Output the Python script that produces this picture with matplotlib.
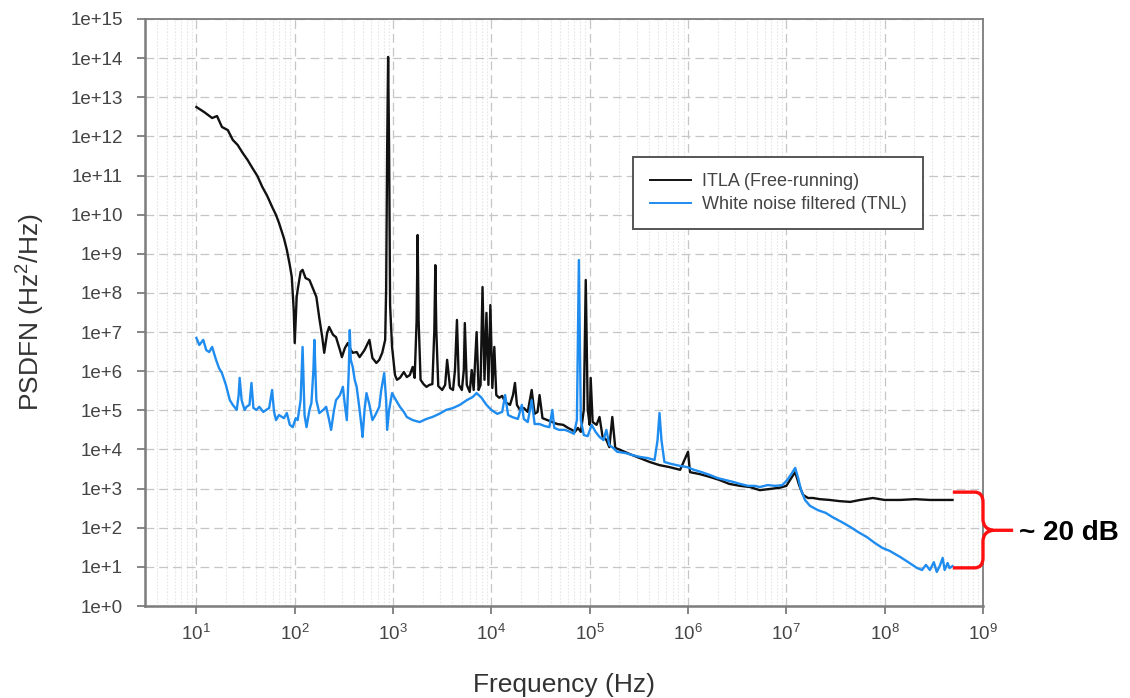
"""Frequency-noise PSD: free-running ITLA vs. white-noise-filtered TNL."""

import matplotlib

matplotlib.use("Agg")
import matplotlib.pyplot as plt
import numpy as np
from matplotlib.patches import PathPatch
from matplotlib.path import Path
from matplotlib.ticker import FixedLocator, FuncFormatter, NullFormatter

INK = "#444444"
LABEL_INK = "#333333"
SPINE = "#7c7c7c"
GRID = "#c6c6c6"
MINOR_GRID = "#e6e6e6"
BLACK_TRACE = "#111111"
BLUE_TRACE = "#1f8cf0"
RED = "#ff1010"

# log10(frequency / Hz) and log10(PSD / Hz^2/Hz)
ITLA_LOG_F = [
    1.00, 1.08, 1.16, 1.21, 1.26, 1.32, 1.37, 1.42, 1.47, 1.52,
    1.57, 1.62, 1.67, 1.72, 1.77, 1.81, 1.84, 1.89, 1.92, 1.95,
    1.97, 1.99, 2.00, 2.02, 2.03, 2.06, 2.08, 2.11, 2.15, 2.19,
    2.22, 2.25, 2.28, 2.30, 2.33, 2.35, 2.39, 2.42, 2.46, 2.48,
    2.51, 2.54, 2.57, 2.59, 2.63, 2.66, 2.71, 2.76, 2.79, 2.83,
    2.86, 2.89, 2.92, 2.93, 2.94, 2.95, 2.96, 2.97, 2.99, 3.02,
    3.04, 3.07, 3.11, 3.14, 3.17, 3.20, 3.22, 3.24, 3.25, 3.26,
    3.28, 3.31, 3.34, 3.37, 3.40, 3.42, 3.43, 3.44, 3.46, 3.50,
    3.53, 3.55, 3.58, 3.61, 3.63, 3.65, 3.67, 3.70, 3.72, 3.73,
    3.75, 3.78, 3.80, 3.82, 3.85, 3.87, 3.89, 3.91, 3.93, 3.95,
    3.97, 3.99, 4.01, 4.03, 4.05, 4.08, 4.11, 4.14, 4.19, 4.22,
    4.24, 4.26, 4.29, 4.33, 4.37, 4.41, 4.44, 4.47, 4.49, 4.52,
    4.57, 4.62, 4.67, 4.73, 4.78, 4.82, 4.85, 4.88, 4.91, 4.94,
    4.96, 4.98, 5.00, 5.01, 5.03, 5.07, 5.10, 5.13, 5.17, 5.20,
    5.23, 5.26, 5.31, 5.41, 5.51, 5.61, 5.71, 5.81, 5.92, 6.00,
    6.02, 6.12, 6.22, 6.32, 6.42, 6.53, 6.63, 6.73, 6.83, 6.93,
    7.00, 7.05, 7.09, 7.13, 7.17, 7.22, 7.27, 7.34, 7.44, 7.54,
    7.65, 7.75, 7.88, 8.00, 8.16, 8.31, 8.46, 8.61, 8.69,
]
ITLA_LOG_PSD = [
    12.75, 12.62, 12.47, 12.52, 12.24, 12.16, 11.91, 11.78, 11.58, 11.40,
    11.19, 10.99, 10.71, 10.48, 10.20, 9.99, 9.79, 9.40, 9.10, 8.71,
    8.41, 7.56, 6.72, 7.90, 8.08, 8.54, 8.59, 8.38, 8.33, 8.08,
    7.90, 7.36, 6.87, 6.47, 6.98, 7.13, 6.93, 6.87, 6.54, 6.36,
    6.59, 6.72, 6.54, 6.47, 6.49, 6.36, 6.54, 6.80, 6.34, 6.21,
    6.29, 6.47, 6.80, 8.08, 11.65, 14.03, 11.65, 7.69, 6.62, 5.90,
    5.78, 5.83, 5.98, 5.85, 5.90, 6.11, 5.83, 7.31, 9.48, 7.31,
    5.78, 5.67, 5.60, 5.65, 5.67, 7.05, 8.71, 7.05, 5.62, 5.52,
    5.65, 6.29, 5.57, 5.52, 6.03, 7.31, 5.65, 5.52, 6.03, 7.23,
    5.65, 5.47, 6.03, 5.52, 7.00, 5.52, 5.65, 8.15, 5.78, 7.49,
    5.65, 7.69, 5.57, 6.62, 5.39, 5.32, 5.37, 5.21, 5.14, 5.39,
    5.70, 5.14, 5.01, 5.06, 4.96, 5.52, 4.91, 4.96, 5.39, 4.80,
    4.75, 4.70, 4.65, 4.63, 4.55, 4.50, 4.45, 4.55, 4.45, 5.01,
    8.33, 5.01, 4.63, 5.83, 4.70, 4.63, 4.83, 4.34, 4.24, 4.06,
    4.83, 4.04, 3.99, 3.88, 3.78, 3.68, 3.60, 3.55, 3.48, 3.94,
    3.42, 3.37, 3.30, 3.22, 3.12, 3.07, 3.04, 2.96, 2.99, 3.02,
    3.07, 3.27, 3.42, 3.09, 2.84, 2.76, 2.76, 2.73, 2.71, 2.68,
    2.66, 2.71, 2.76, 2.71, 2.71, 2.73, 2.71, 2.71, 2.71,
]
TNL_LOG_F = [
    1.00, 1.03, 1.07, 1.10, 1.13, 1.16, 1.20, 1.23, 1.26, 1.30,
    1.34, 1.37, 1.41, 1.43, 1.44, 1.46, 1.49, 1.51, 1.54, 1.56,
    1.58, 1.61, 1.64, 1.68, 1.71, 1.74, 1.77, 1.79, 1.81, 1.84,
    1.89, 1.92, 1.95, 1.98, 2.01, 2.03, 2.06, 2.08, 2.10, 2.12,
    2.15, 2.17, 2.19, 2.20, 2.22, 2.25, 2.29, 2.32, 2.35, 2.37,
    2.40, 2.42, 2.46, 2.49, 2.51, 2.53, 2.55, 2.56, 2.57, 2.59,
    2.61, 2.63, 2.66, 2.68, 2.69, 2.71, 2.73, 2.76, 2.79, 2.82,
    2.86, 2.88, 2.91, 2.93, 2.94, 2.96, 2.99, 3.03, 3.07, 3.11,
    3.14, 3.20, 3.27, 3.34, 3.40, 3.47, 3.54, 3.61, 3.68, 3.75,
    3.81, 3.85, 3.90, 3.95, 4.00, 4.06, 4.11, 4.14, 4.17, 4.21,
    4.27, 4.31, 4.33, 4.37, 4.41, 4.44, 4.49, 4.54, 4.59, 4.62,
    4.64, 4.69, 4.75, 4.80, 4.84, 4.87, 4.89, 4.91, 4.94, 4.98,
    5.02, 5.06, 5.10, 5.14, 5.17, 5.20, 5.24, 5.28, 5.36, 5.43,
    5.51, 5.59, 5.66, 5.69, 5.71, 5.73, 5.76, 5.83, 5.92, 5.99,
    6.06, 6.14, 6.22, 6.30, 6.38, 6.46, 6.53, 6.61, 6.68, 6.73,
    6.81, 6.89, 6.96, 7.01, 7.05, 7.09, 7.12, 7.15, 7.19, 7.24,
    7.32, 7.40, 7.47, 7.56, 7.65, 7.73, 7.82, 7.90, 7.98, 8.05,
    8.16, 8.24, 8.33, 8.38, 8.42, 8.46, 8.50, 8.53, 8.56, 8.59,
    8.61, 8.64, 8.66, 8.69,
]
TNL_LOG_PSD = [
    6.85, 6.67, 6.80, 6.54, 6.49, 6.62, 6.29, 6.08, 5.95, 5.65,
    5.26, 5.14, 5.01, 5.39, 5.83, 5.26, 5.01, 5.09, 5.14, 5.70,
    5.06, 5.01, 5.09, 4.96, 5.01, 5.06, 5.52, 4.96, 4.75, 4.88,
    4.80, 4.93, 4.63, 4.57, 4.80, 4.75, 5.26, 6.62, 4.88, 4.57,
    5.01, 5.19, 6.03, 6.80, 5.26, 4.93, 5.01, 5.09, 4.75, 4.50,
    5.01, 5.26, 5.39, 5.60, 5.14, 4.75, 6.03, 7.05, 6.29, 6.11,
    5.78, 5.60, 5.01, 4.57, 4.32, 5.01, 5.44, 5.14, 4.75, 4.88,
    5.09, 5.52, 5.95, 5.26, 4.50, 5.01, 5.44, 5.26, 5.09, 4.96,
    4.83, 4.75, 4.70, 4.78, 4.83, 4.91, 5.01, 5.06, 5.14, 5.26,
    5.34, 5.44, 5.32, 5.14, 5.01, 4.91, 4.96, 5.39, 4.88, 4.83,
    4.78, 5.14, 4.78, 4.70, 5.26, 4.65, 4.65, 4.60, 4.57, 5.01,
    4.55, 4.50, 4.50, 4.45, 4.40, 4.75, 8.84, 4.75, 4.37, 4.34,
    4.63, 4.45, 4.32, 4.24, 4.50, 4.11, 4.04, 3.94, 3.91, 3.86,
    3.81, 3.78, 3.73, 4.24, 4.93, 4.24, 3.68, 3.63, 3.58, 3.55,
    3.48, 3.42, 3.35, 3.27, 3.22, 3.17, 3.12, 3.07, 3.07, 3.04,
    3.09, 3.07, 3.09, 3.22, 3.37, 3.53, 3.27, 2.96, 2.71, 2.56,
    2.45, 2.38, 2.27, 2.15, 2.02, 1.89, 1.76, 1.61, 1.48, 1.41,
    1.25, 1.12, 0.97, 0.92, 1.05, 0.92, 1.12, 0.87, 1.02, 1.23,
    0.92, 1.10, 0.97, 1.02,
]
SERIES_LABELS = ["ITLA (Free-running)", "White noise filtered (TNL)"]
X_DECADES = list(range(1, 10))
Y_DECADES = list(range(0, 16))
X_LIMITS = (3.0, 1e9)
Y_LIMITS = (1.0, 1e15)
GAP_LABEL = "~ 20 dB"


def brace_path() -> Path:
    # curly brace in axes-fraction coordinates, just right of the plot frame
    verts = [
        (0.964, 0.194), (0.990, 0.194), (1.000, 0.194), (1.000, 0.177),
        (1.000, 0.148), (1.000, 0.131), (1.012, 0.129), (1.036, 0.129),
        (1.012, 0.129), (1.000, 0.127), (1.000, 0.110),
        (1.000, 0.082), (1.000, 0.065), (0.990, 0.065), (0.964, 0.065),
    ]
    codes = [
        Path.MOVETO, Path.LINETO, Path.CURVE3, Path.CURVE3,
        Path.LINETO, Path.CURVE3, Path.CURVE3, Path.LINETO,
        Path.MOVETO, Path.CURVE3, Path.CURVE3,
        Path.LINETO, Path.CURVE3, Path.CURVE3, Path.LINETO,
    ]
    return Path(verts, codes)


def main() -> None:
    assert len(ITLA_LOG_F) == len(ITLA_LOG_PSD)
    assert len(TNL_LOG_F) == len(TNL_LOG_PSD)

    plt.rcParams.update(
        {
            "font.family": ["Liberation Sans", "DejaVu Sans"],
            "mathtext.fontset": "custom",
            "mathtext.rm": "Liberation Sans",
            "mathtext.it": "Liberation Sans:italic",
            "mathtext.bf": "Liberation Sans:bold",
        }
    )

    fig = plt.figure(figsize=(11.30, 6.98), dpi=100)
    ax = fig.add_axes([0.1283, 0.1318, 0.7416, 0.8410])

    (itla,) = ax.plot(
        10 ** np.asarray(ITLA_LOG_F),
        10 ** np.asarray(ITLA_LOG_PSD),
        color=BLACK_TRACE,
        lw=1.7,
        label=SERIES_LABELS[0],
        zorder=3,
    )
    (tnl,) = ax.plot(
        10 ** np.asarray(TNL_LOG_F),
        10 ** np.asarray(TNL_LOG_PSD),
        color=BLUE_TRACE,
        lw=1.7,
        label=SERIES_LABELS[1],
        zorder=4,
    )

    ax.set_xscale("log")
    ax.set_yscale("log")
    ax.set_xlim(*X_LIMITS)
    ax.set_ylim(*Y_LIMITS)

    ax.xaxis.set_major_locator(FixedLocator([10.0**d for d in X_DECADES]))
    ax.xaxis.set_major_formatter(
        FuncFormatter(lambda v, _: f"$10^{{{int(round(np.log10(v)))}}}$")
    )
    minor_x = [m * 10.0**d for d in range(0, 9) for m in range(2, 10)]
    ax.xaxis.set_minor_locator(FixedLocator(minor_x))
    ax.xaxis.set_minor_formatter(NullFormatter())

    ax.yaxis.set_major_locator(FixedLocator([10.0**d for d in Y_DECADES]))
    ax.yaxis.set_major_formatter(
        FuncFormatter(lambda v, _: f"1e+{int(round(np.log10(v)))}")
    )
    ax.yaxis.set_minor_locator(FixedLocator([]))

    ax.tick_params(
        axis="both", which="major", direction="out", length=6, width=1.3,
        color=SPINE, labelcolor=INK, labelsize=13.5,
    )
    ax.tick_params(axis="y", which="major", pad=10)
    ax.tick_params(axis="x", which="major", pad=7)
    ax.tick_params(axis="x", which="minor", length=0)
    ax.tick_params(top=False, right=False)

    ax.grid(True, which="major", color=GRID, lw=0.9, ls=(0, (7, 4)), zorder=0)
    ax.grid(True, which="minor", axis="x", color=MINOR_GRID, lw=0.8, ls=(0, (1.5, 1.5)), zorder=0)
    ax.set_axisbelow(True)

    for side, width in (("left", 1.8), ("bottom", 1.8), ("top", 1.3), ("right", 1.3)):
        ax.spines[side].set_color(SPINE)
        ax.spines[side].set_linewidth(width)

    ax.set_xlabel("Frequency (Hz)", fontsize=19, color=LABEL_INK, labelpad=21)
    ax.set_ylabel("PSDFN (Hz$^2$/Hz)", fontsize=19, color=LABEL_INK, labelpad=17)

    leg = ax.legend(
        handles=[itla, tnl],
        loc="upper left",
        bbox_to_anchor=(0.572, 0.78),
        fontsize=13,
        frameon=True,
        fancybox=False,
        framealpha=1.0,
        edgecolor="#555555",
        borderpad=0.9,
        handlelength=2.3,
        handletextpad=0.6,
        labelspacing=0.3,
    )
    leg.get_frame().set_linewidth(1.4)
    for line in leg.get_lines():
        line.set_linewidth(1.4)
    for text in leg.get_texts():
        text.set_color(INK)

    ax.add_patch(
        PathPatch(
            brace_path(),
            transform=ax.transAxes,
            facecolor="none",
            edgecolor=RED,
            lw=2.4,
            clip_on=False,
            zorder=6,
        )
    )
    fig.text(
        1019 / 1130,
        1 - 533 / 698,
        GAP_LABEL,
        ha="left",
        va="center",
        fontsize=20,
        fontweight="bold",
        color="black",
    )

    fig.savefig("out.png", dpi=100)
    plt.close(fig)


if __name__ == "__main__":
    main()
